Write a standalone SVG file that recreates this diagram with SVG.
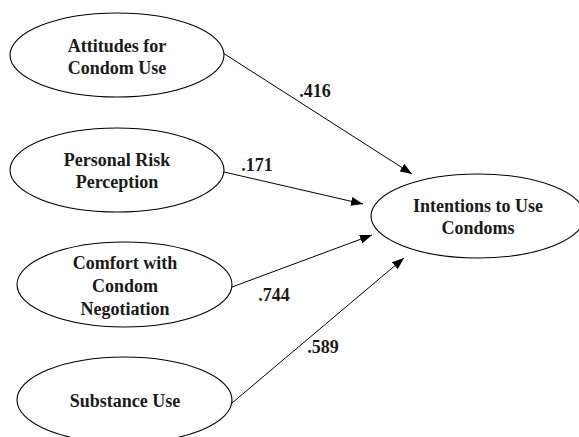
<svg xmlns="http://www.w3.org/2000/svg" width="579" height="437" viewBox="0 0 579 437">
<style>
.node ellipse{fill:#fff;stroke:#000;stroke-width:1.1}
.node text,.lbl{font-family:"Liberation Serif","Times New Roman",serif;font-weight:bold;font-size:18px;fill:#1a1a1a;text-anchor:middle}
.edge{stroke:#000;stroke-width:1;fill:none;marker-end:url(#ah)}
</style>
<defs>
<marker id="ah" markerUnits="userSpaceOnUse" markerWidth="13" markerHeight="9" refX="12" refY="4.5" orient="auto">
<path d="M0,0 L12,4.5 L0,9 z" fill="#000"/>
</marker>
</defs>
<rect width="579" height="437" fill="#fff"/>
<g id="connectors">
<line class="edge" x1="223" y1="53" x2="412" y2="174"/>
<line class="edge" x1="224" y1="172" x2="363" y2="204"/>
<line class="edge" x1="232" y1="287" x2="372" y2="235"/>
<line class="edge" x1="232" y1="403" x2="404" y2="258"/>
<text class="lbl" x="315" y="97">.416</text>
<text class="lbl" x="257" y="171">.171</text>
<text class="lbl" x="274" y="301">.744</text>
<text class="lbl" x="323" y="353">.589</text>
</g>
<g id="attitudes" class="node">
<ellipse cx="117" cy="55" rx="107" ry="42"/>
<text x="117" y="52">Attitudes for</text>
<text x="117" y="74">Condom Use</text>
</g>
<g id="risk" class="node">
<ellipse cx="117" cy="170" rx="107" ry="42"/>
<text x="117" y="166">Personal Risk</text>
<text x="117" y="188">Perception</text>
</g>
<g id="comfort" class="node">
<ellipse cx="124.5" cy="284.5" rx="107.5" ry="42.5"/>
<text x="125" y="269">Comfort with</text>
<text x="125" y="292">Condom</text>
<text x="125" y="315">Negotiation</text>
</g>
<g id="substance" class="node">
<ellipse cx="124.5" cy="400" rx="107.5" ry="43"/>
<text x="125" y="407">Substance Use</text>
</g>
<g id="intentions" class="node">
<ellipse cx="478" cy="216" rx="107" ry="42"/>
<text x="478" y="212">Intentions to Use</text>
<text x="478" y="234">Condoms</text>
</g>
</svg>
